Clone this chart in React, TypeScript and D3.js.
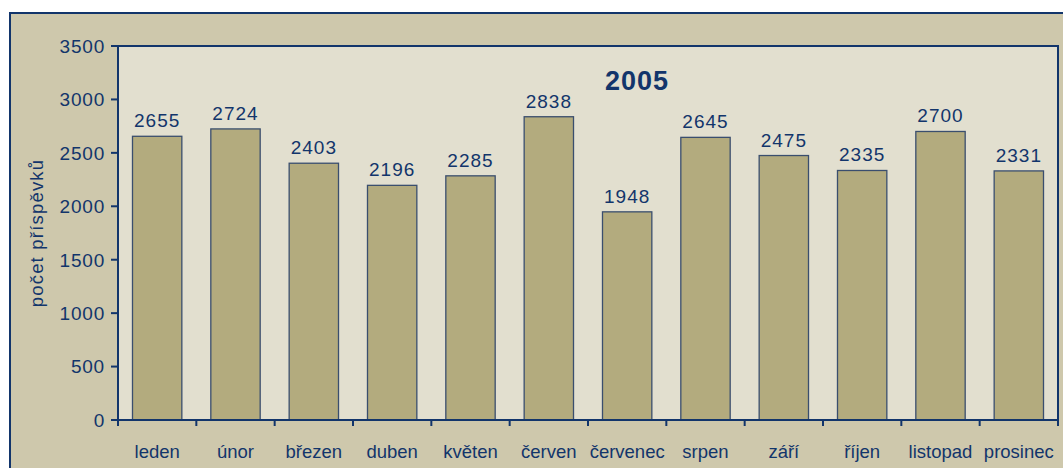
import React from "react";
import { scaleBand, scaleLinear } from "d3";

const months = ["leden", "únor", "březen", "duben", "květen", "červen", "červenec", "srpen", "září", "říjen", "listopad", "prosinec"];
const counts = [2655, 2724, 2403, 2196, 2285, 2838, 1948, 2645, 2475, 2335, 2700, 2331];
const yTicks = [0, 500, 1000, 1500, 2000, 2500, 3000, 3500];
const title = "2005";
const yTitle = "počet příspěvků";

const W = 1063;
const H = 468;
const navy = "#12356b";

export default function App() {
  const left = 118, right = 1058, top = 46, bottom = 420;

  const x = scaleBand<string>().domain(months).range([left, right]).paddingInner(0.37).paddingOuter(0.185);
  const band = scaleBand<string>().domain(months).range([left, right]);
  const y = scaleLinear().domain([0, 3500]).range([bottom, top]);

  return (
    <svg width={W} height={H} style={{ position: "absolute", left: 0, top: 0, fontFamily: "'Liberation Sans', Arial, sans-serif" }}>
      <rect x={0} y={0} width={W} height={H} fill="#ffffff" />
      {/* outer frame */}
      <rect x={10} y={13} width={W + 20} height={H + 20} fill="#cec8ac" stroke={navy} strokeWidth={2} />
      {/* plot area */}
      <rect x={left} y={top} width={right - left} height={bottom - top} fill="#e2dfcf" stroke={navy} strokeWidth={2} />

      {counts.map((v, i) => {
        const m = months[i];
        const bx = x(m)!;
        return (
          <g key={m}>
            <rect x={bx} y={y(v)} width={x.bandwidth()} height={bottom - y(v)} fill="#b3ab7e" stroke="#3a4e6e" strokeWidth={1.3} />
            <text x={bx + x.bandwidth() / 2} y={y(v) - 9} textAnchor="middle" fontSize={19} fill={navy} letterSpacing={1}>{v}</text>
          </g>
        );
      })}

      {/* y axis */}
      <line x1={left} x2={left} y1={top} y2={bottom} stroke={navy} strokeWidth={2} />
      {yTicks.map((t) => (
        <g key={t}>
          <line x1={left - 7} x2={left} y1={y(t)} y2={y(t)} stroke={navy} strokeWidth={2} />
          <text x={left - 13} y={y(t)} dy="0.36em" textAnchor="end" fontSize={19} fill={navy} letterSpacing={0.8}>{t}</text>
        </g>
      ))}

      {/* x axis */}
      <line x1={left} x2={right} y1={bottom} y2={bottom} stroke={navy} strokeWidth={2} />
      {months.map((m) => (
        <g key={m}>
          <line x1={band(m)!} x2={band(m)!} y1={bottom} y2={bottom + 6} stroke={navy} strokeWidth={2} />
          <text x={band(m)! + band.bandwidth() / 2} y={458} textAnchor="middle" fontSize={18.5} fill={navy}>{m}</text>
        </g>
      ))}
      <line x1={right} x2={right} y1={bottom} y2={bottom + 6} stroke={navy} strokeWidth={2} />

      <text x={637} y={90} textAnchor="middle" fontSize={27} fontWeight="bold" fill={navy} letterSpacing={1}>{title}</text>
      <text transform={`translate(43, ${(top + bottom) / 2}) rotate(-90)`} textAnchor="middle" fontSize={18.5} fill={navy} letterSpacing={1.2}>{yTitle}</text>
    </svg>
  );
}
